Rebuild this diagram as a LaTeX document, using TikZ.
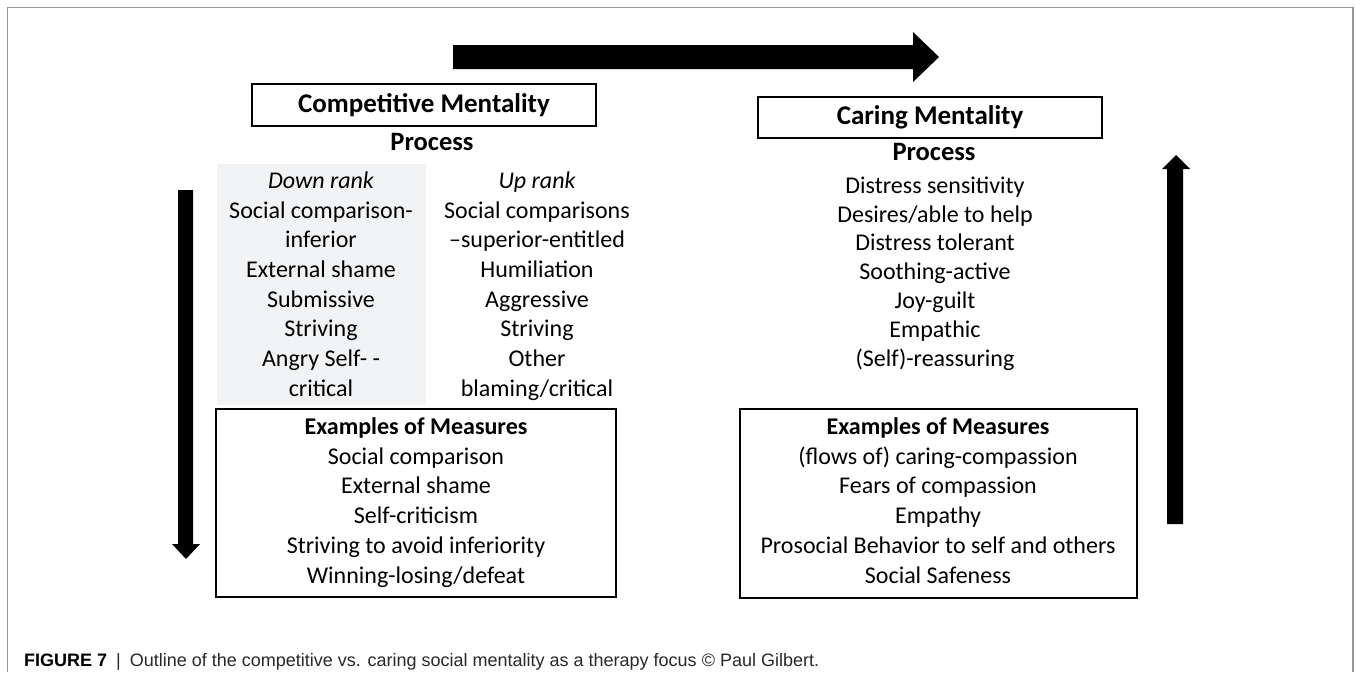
\documentclass[tikz,border=0pt]{standalone}
\usepackage{fontspec}
\setmainfont{Carlito}
\newfontfamily\capfont{Liberation Sans}
\definecolor{framegray}{RGB}{150,150,150}
\definecolor{shadegray}{RGB}{242,243,244}
\definecolor{capgray}{RGB}{40,40,40}
\begin{document}
\begin{tikzpicture}[x=1pt,y=-1pt,
  txt/.style={inner sep=0pt, anchor=mid, yshift=-5pt, font=\fontsize{24}{29}\selectfont},
  itxt/.style={txt, font=\fontsize{24}{29}\selectfont\itshape},
  btxt/.style={txt, font=\fontsize{24}{29}\selectfont\bfseries},
  ptxt/.style={txt, font=\fontsize{26.5}{31}\selectfont\bfseries},
  titlebox/.style={draw=black, line width=1.5pt, inner sep=0pt, font=\fontsize{27}{32}\selectfont\bfseries},
  mbox/.style={draw=black, line width=1.5pt, inner sep=0pt},
  blockarrow/.style={fill=black, draw=none}]
\useasboundingbox (0,0) rectangle (1356,672);
\fill[white] (0,0) rectangle (1356,672);
% frame
\draw[framegray, line width=1.5pt] (7.5,672) -- (7.5,7.5) -- (1353,7.5) -- (1353,672);
% shaded down-rank column
\fill[shadegray] (217,164) rectangle (426,405);
% block arrows
\fill[blockarrow] (453,45) -- (913,45) -- (913,32) -- (939,57) -- (913,82) -- (913,69) -- (453,69) -- cycle;
\fill[blockarrow] (178,190) -- (193,190) -- (193,544) -- (200,544) -- (186,559) -- (172,544) -- (178,544) -- cycle;
\fill[blockarrow] (1167,524) -- (1183,524) -- (1183,169) -- (1190,169) -- (1176,155) -- (1162,169) -- (1167,169) -- cycle;
% titles
\node[titlebox, minimum width=344pt, minimum height=42pt] (comp) at (424,105) {Competitive Mentality};
\node[titlebox, minimum width=344pt, minimum height=41pt] (care) at (930,117.5) {Caring Mentality};
\node[ptxt] (procL) at (432,143) {Process};
\node[ptxt] (procR) at (934,153) {Process};
% left process columns
\node[itxt] (down) at (321,181) {Down rank};
\foreach \t [count=\i] in {Social comparison-, inferior, External shame, Submissive, Striving, Angry Self- -, critical}
  \node[txt] (dl\i) at (321,181+29.7*\i) {\t};
\node[itxt] (up) at (537,181) {Up rank};
\foreach \t [count=\i] in {Social comparisons, {--superior-entitled}, Humiliation, Aggressive, Striving, Other, blaming/critical}
  \node[txt] (ul\i) at (537,181+29.7*\i) {\t};
% right process list
\foreach \t [count=\i] in {Distress sensitivity, Desires/able to help, Distress tolerant, Soothing-active, Joy-guilt, Empathic, (Self)-reassuring}
  \node[txt] (cl\i) at (935,186+28.8*\i-28.8) {\t};
% measure boxes
\node[mbox, minimum width=400pt, minimum height=188pt] (exL) at (416,503) {};
\node[mbox, minimum width=397pt, minimum height=189pt] (exR) at (938.5,503.5) {};
\node[btxt] (exLh) at (416,427) {Examples of Measures};
\foreach \t [count=\i] in {Social comparison, External shame, Self-criticism, Striving to avoid inferiority, Winning-losing/defeat}
  \node[txt] (el\i) at (416,427+29.8*\i) {\t};
\node[btxt] (exRh) at (938,427) {Examples of Measures};
\foreach \t [count=\i] in {(flows of) caring-compassion, Fears of compassion, Empathy, Prosocial Behavior to self and others, Social Safeness}
  \node[txt] (er\i) at (938,427+29.8*\i) {\t};
% caption
\node[anchor=base west, inner sep=0pt, font=\capfont\fontsize{18}{21}\selectfont] (cap) at (24,666)
  {\textbf{FIGURE 7}\enspace{\color{capgray}|}\enspace{\color{capgray}Outline of the competitive vs. caring social mentality as a therapy focus \textcopyright{} Paul Gilbert.}};
\end{tikzpicture}
\end{document}
